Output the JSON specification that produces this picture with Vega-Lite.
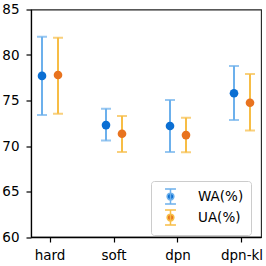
{
  "$schema": "https://vega.github.io/schema/vega-lite/v6.json",
  "width": 230,
  "height": 227.5,
  "autosize": "none",
  "padding": {"left": 31, "top": 9.5, "right": 5, "bottom": 29},
  "background": "white",
  "config": {
    "font": "DejaVu Sans",
    "view": {"stroke": "#222222", "strokeWidth": 1.1},
    "axis": {
      "labelFont": "DejaVu Sans",
      "labelFontSize": 13.5,
      "labelColor": "black",
      "domainColor": "black",
      "domainWidth": 1.3,
      "tickColor": "black",
      "tickWidth": 1.2,
      "tickSize": 5,
      "grid": false,
      "title": null
    },
    "legend": {
      "orient": "none",
      "legendX": 120,
      "legendY": 171.5,
      "direction": "vertical",
      "title": null,
      "symbolType": "M-0.73,-1H0.73M0,-1V1M-0.73,1H0.73M0.45,0A0.45,0.45,0,1,1,-0.45,0A0.45,0.45,0,1,1,0.45,0Z",
      "symbolSize": 225,
      "symbolStrokeWidth": 1.5,
      "symbolOpacity": 1,
      "symbolOffset": 4,
      "labelOffset": 19,
      "labelFont": "DejaVu Sans",
      "labelFontSize": 13.5,
      "labelColor": "black",
      "padding": 7,
      "rowPadding": 0,
      "strokeColor": "#cccccc",
      "fillColor": "white",
      "cornerRadius": 3
    }
  },
  "data": {
    "values": [
      {"method": "hard", "series": "WA(%)", "mean": 77.7, "low": 73.4, "high": 82.0},
      {"method": "hard", "series": "UA(%)", "mean": 77.8, "low": 73.55, "high": 81.9},
      {"method": "soft", "series": "WA(%)", "mean": 72.3, "low": 70.6, "high": 74.1},
      {"method": "soft", "series": "UA(%)", "mean": 71.35, "low": 69.35, "high": 73.3},
      {"method": "dpn", "series": "WA(%)", "mean": 72.2, "low": 69.35, "high": 75.05},
      {"method": "dpn", "series": "UA(%)", "mean": 71.2, "low": 69.3, "high": 73.1},
      {"method": "dpn-kl", "series": "WA(%)", "mean": 75.8, "low": 72.85, "high": 78.8},
      {"method": "dpn-kl", "series": "UA(%)", "mean": 74.75, "low": 71.7, "high": 77.9}
    ]
  },
  "encoding": {
    "x": {
      "field": "method",
      "type": "nominal",
      "sort": ["hard", "soft", "dpn", "dpn-kl"],
      "scale": {"paddingInner": 0.5, "paddingOuter": 0.047},
      "axis": {"labelAngle": 0, "labelPadding": 6}
    },
    "xOffset": {
      "field": "series",
      "type": "nominal",
      "sort": ["WA(%)", "UA(%)"],
      "scale": {"paddingInner": 0, "paddingOuter": 0}
    }
  },
  "layer": [
    {
      "mark": {"type": "rule", "strokeWidth": 2},
      "encoding": {
        "y": {
          "field": "low",
          "type": "quantitative",
          "scale": {"domain": [60, 85], "nice": false, "zero": false},
          "axis": {"values": [60, 65, 70, 75, 80, 85], "labelPadding": 7}
        },
        "y2": {"field": "high"},
        "stroke": {
          "field": "series",
          "type": "nominal",
          "sort": ["WA(%)", "UA(%)"],
          "scale": {"domain": ["WA(%)", "UA(%)"], "range": ["#6cb0ec", "#f7bd45"]},
          "legend": {
            "encode": {
              "symbols": {
                "update": {
                  "fill": {"scale": "fill", "field": "value"},
                  "stroke": {"scale": "stroke", "field": "value"},
                  "fillOpacity": {"value": 1},
                  "opacity": {"value": 1},
                  "strokeWidth": {"value": 1.5}
                }
              }
            }
          }
        }
      }
    },
    {
      "mark": {"type": "tick", "size": 10, "thickness": 0, "strokeWidth": 2},
      "encoding": {
        "y": {"field": "low", "type": "quantitative"},
        "stroke": {"field": "series", "type": "nominal"}
      }
    },
    {
      "mark": {"type": "tick", "size": 10, "thickness": 0, "strokeWidth": 2},
      "encoding": {
        "y": {"field": "high", "type": "quantitative"},
        "stroke": {"field": "series", "type": "nominal"}
      }
    },
    {
      "mark": {"type": "point", "filled": true, "size": 75, "opacity": 1, "strokeWidth": 0},
      "encoding": {
        "y": {"field": "mean", "type": "quantitative"},
        "fill": {
          "field": "series",
          "type": "nominal",
          "sort": ["WA(%)", "UA(%)"],
          "scale": {"domain": ["WA(%)", "UA(%)"], "range": ["#0b6fd3", "#e8731f"]},
          "legend": {
            "encode": {
              "symbols": {
                "update": {
                  "fill": {"scale": "fill", "field": "value"},
                  "stroke": {"scale": "stroke", "field": "value"},
                  "fillOpacity": {"value": 1},
                  "opacity": {"value": 1},
                  "strokeWidth": {"value": 1.5}
                }
              }
            }
          }
        },
        "stroke": {"field": "series", "type": "nominal"}
      }
    }
  ]
}
